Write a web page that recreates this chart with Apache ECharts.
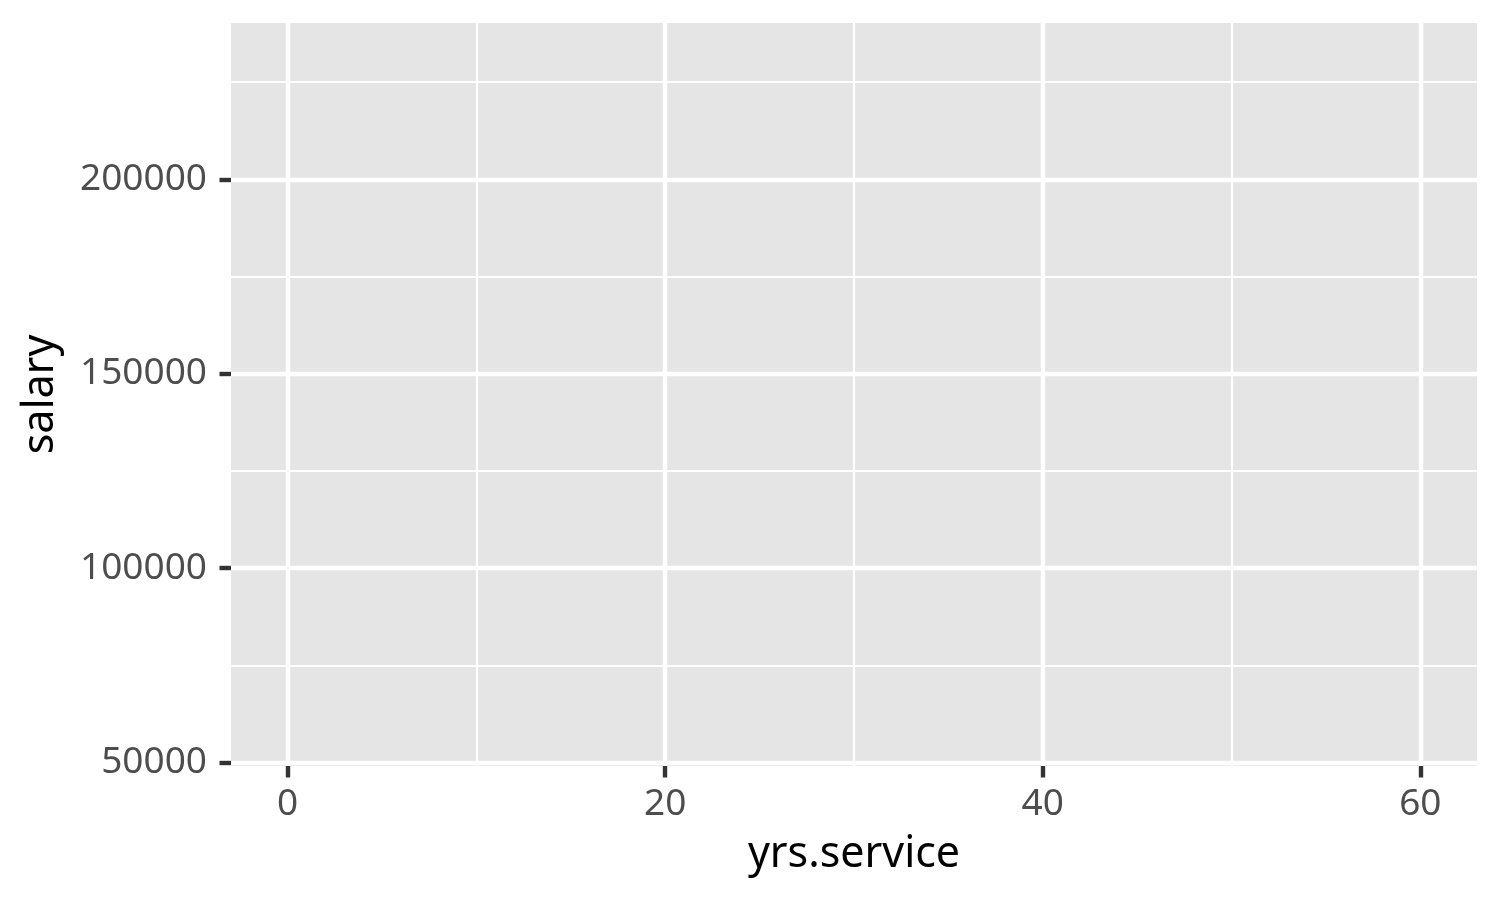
<!DOCTYPE html>
<html>
<head>
<meta charset="utf-8">
<title>salary vs yrs.service</title>
<script src="https://cdn.jsdelivr.net/npm/echarts@6/dist/echarts.min.js"></script>
<style>
    html, body { margin: 0; padding: 0; background: #fff; }
    #main { width: 1500px; height: 900px; }
</style>
</head>
<body>
<div id="main"></div>
<script>
// data ranges (no points are drawn in the reference, only the empty panel)
const yrsServiceRange = [0, 60]
const salaryRange = [57800, 231545]
const xTicks = [0, 20, 40, 60]
const yTicks = [50000, 100000, 150000, 200000]
const points = []

// ggplot style 5% expansion on each side
function expand (r) {
    const pad = (r[1] - r[0]) * 0.05
    return [r[0] - pad, r[1] + pad]
}
const xLim = expand(yrsServiceRange)
const yLim = expand(salaryRange)

const font = '"Noto Sans", "Open Sans", sans-serif'

const chartDom = document.getElementById('main')
const myChart = echarts.init(chartDom)

const option = {
    animation: false,
    backgroundColor: '#fff',
    grid: {
        left: 231,
        right: 23,
        top: 23,
        bottom: 134,
        show: true,
        backgroundColor: '#E5E5E5',
        borderWidth: 0,
        containLabel: false,
        outerBoundsMode: 'none'
    },
    xAxis: {
        type: 'value',
        min: xLim[0],
        max: xLim[1],
        splitNumber: 3,
        minInterval: 20,
        maxInterval: 20,
        name: 'yrs.service',
        nameLocation: 'middle',
        nameGap: 89,
        nameTextStyle: {
            fontFamily: font,
            fontSize: 43,
            color: '#000',
            verticalAlign: 'middle'
        },
        axisLine: { show: false, onZero: false },
        axisTick: {
            show: true,
            customValues: xTicks,
            length: 11.5,
            lineStyle: { color: '#333333', width: 4.4 }
        },
        axisLabel: {
            customValues: xTicks,
            margin: 38,
            verticalAlign: 'middle',
            fontFamily: font,
            fontSize: 37,
            color: '#4D4D4D',
            formatter: v => String(v)
        },
        splitLine: {
            show: true,
            lineStyle: { color: '#fff', width: 4.4 }
        },
        minorTick: { show: false, splitNumber: 2 },
        minorSplitLine: {
            show: true,
            lineStyle: { color: '#fff', width: 2.2 }
        }
    },
    yAxis: {
        type: 'value',
        min: yLim[0],
        max: yLim[1],
        splitNumber: 4,
        minInterval: 50000,
        maxInterval: 50000,
        name: 'salary',
        nameLocation: 'middle',
        nameGap: 190,
        nameRotate: 90,
        nameTextStyle: {
            fontFamily: font,
            fontSize: 43,
            color: '#000',
            verticalAlign: 'middle'
        },
        axisLine: { show: false, onZero: false },
        axisTick: {
            show: true,
            customValues: yTicks,
            length: 11.5,
            lineStyle: { color: '#333333', width: 4.4 }
        },
        axisLabel: {
            customValues: yTicks,
            margin: 24,
            fontFamily: font,
            fontSize: 37,
            color: '#4D4D4D',
            formatter: v => String(v)
        },
        splitLine: {
            show: true,
            lineStyle: { color: '#fff', width: 4.4 }
        },
        minorTick: { show: false, splitNumber: 2 },
        minorSplitLine: {
            show: true,
            lineStyle: { color: '#fff', width: 2.2 }
        }
    },
    series: [
        {
            type: 'scatter',
            data: points,
            symbolSize: 8
        }
    ]
}

myChart.setOption(option)
</script>
</body>
</html>
